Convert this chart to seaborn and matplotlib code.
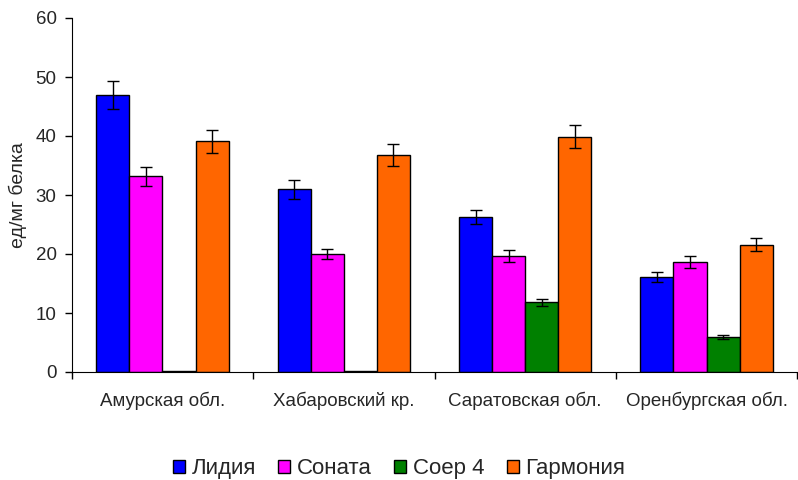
import pandas as pd
import matplotlib.pyplot as plt
import seaborn as sns
import numpy as np

# Data
regions = ['Амурская обл.', 'Хабаровский кр.', 'Саратовская обл.', 'Оренбургская обл.']
varieties = ['Лидия', 'Соната', 'Соер 4', 'Гармония']
colors = ['#0000ff', '#ff00ff', '#008000', '#ff6600']

lidia = [47.0, 31.0, 26.3, 16.1]
sonata = [33.2, 20.0, 19.6, 18.6]
soer4 = [0.2, 0.2, 11.8, 5.9]
garmonia = [39.1, 36.8, 39.9, 21.6]

lidia_err = [2.4, 1.6, 1.2, 0.8]
sonata_err = [1.6, 0.9, 1.0, 1.0]
soer4_err = [0.0, 0.0, 0.6, 0.3]
garmonia_err = [1.9, 1.8, 2.0, 1.1]

values = [lidia, sonata, soer4, garmonia]
errors = [lidia_err, sonata_err, soer4_err, garmonia_err]

rows = []
for v, name in enumerate(varieties):
    for r, reg in enumerate(regions):
        rows.append({'region': reg, 'variety': name,
                     'value': values[v][r], 'err': errors[v][r]})
df = pd.DataFrame(rows)

sns.set_style('white')
plt.rcParams['font.family'] = ['Liberation Sans', 'DejaVu Sans']

fig = plt.figure(figsize=(7.98, 4.8), dpi=100)
ax = fig.add_axes([0.09, 0.225, 0.909, 0.7375])

sns.barplot(data=df, x='region', y='value', hue='variety', order=regions,
            hue_order=varieties, palette=colors, width=0.73, errorbar=None,
            edgecolor='black', linewidth=1.0, saturation=1, ax=ax)

# error bars from bar positions
bars = [p for p in ax.patches if p.get_height() > 0]
for v, name in enumerate(varieties):
    for r in range(len(regions)):
        p = bars[v * len(regions) + r]
        e = errors[v][r]
        if e > 0:
            ax.errorbar(p.get_x() + p.get_width() / 2, p.get_height(), yerr=e,
                        fmt='none', ecolor='black', elinewidth=1, capsize=4,
                        capthick=1)

ax.set_ylim(0, 60)
ax.set_xlim(-0.5, 3.5)
ax.set_yticks(range(0, 61, 10))
ax.set_ylabel('ед/мг белка', fontsize=14, labelpad=6)
ax.set_xlabel('')

ax.set_xticks(np.arange(-0.5, 3.6, 1), minor=True)
ax.tick_params(axis='x', which='major', length=0, labelsize=13.5, pad=14)
ax.tick_params(axis='x', which='minor', length=5, width=1, direction='out',
               bottom=True, color='black')
ax.tick_params(axis='y', length=5, width=1, direction='out', left=True,
               labelsize=13.5, color='black', pad=6)

sns.despine(ax=ax)
ax.spines['left'].set_color('black')
ax.spines['bottom'].set_color('black')

ax.legend(loc='lower center', bbox_to_anchor=(0.5, -0.04), bbox_transform=fig.transFigure,
          ncol=4, frameon=False, fontsize=16, handlelength=0.55, handleheight=0.55,
          handletextpad=0.3, columnspacing=1.0)

plt.savefig('out.png', dpi=100)
